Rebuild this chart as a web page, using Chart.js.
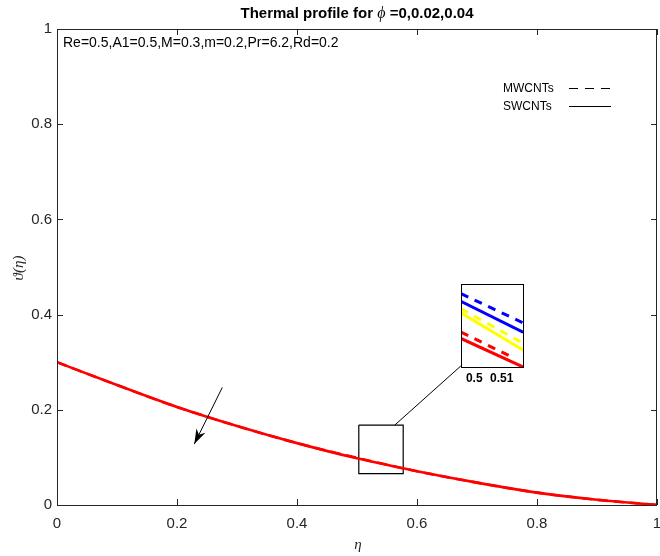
<!DOCTYPE html>
<html><head><meta charset="utf-8">
<script src="https://cdn.jsdelivr.net/npm/chart.js@4.4.0/dist/chart.umd.min.js"></script>
<style>
html,body{margin:0;padding:0;background:#fff}
#wrap{position:relative;width:660px;height:556px}
#main{position:absolute;left:0;top:0}
#inset{position:absolute;left:450px;top:278px}
</style></head><body>
<div id="wrap">
<canvas id="main" width="660" height="556"></canvas>
<canvas id="inset" width="85" height="115"></canvas>
</div>
<script>
// ─── DATA ───────────────────────────────────────────────────────────
const eta     = [0,0.1,0.2,0.3,0.4,0.5,0.6,0.7,0.8,0.9,1.0];
const thetaSW = [0.300,0.252,0.206,0.166,0.130,0.098,0.071,0.047,0.026,0.011,0.000];
const thetaMW = [0.300,0.252,0.206,0.166,0.130,0.099,0.071,0.047,0.026,0.011,0.000];
const yTicks  = [0,0.2,0.4,0.6,0.8,1];
const xTicks  = [0,0.2,0.4,0.6,0.8,1];

// zoom window (small box on curve) and pointer lines
const boxEta   = [0.503,0.577,0.577,0.503,0.503];
const boxTheta = [0.168,0.168,0.066,0.066,0.168];
const linkEta   = [0.563,0.673];
const linkTheta = [0.168,0.292];
const arrowEta   = [0.2755,0.2288];
const arrowTheta = [0.247,0.128];

// inset: phi = 0 (blue), 0.02 (yellow), 0.04 (red)
const insetTicks = [0.5,0.51];
const blueEtaS = [0.4941,0.5177], blueS = [0.10052,0.09955];
const blueEtaM = [0.4952,0.5177], blueM = [0.10071,0.09983];
const yelEtaS  = [0.4952,0.5196], yelS  = [0.10013,0.09892];
const yelEtaM  = [0.4952,0.5177], yelM  = [0.10025,0.09922];
const redEtaS  = [0.4941,0.5180], redS  = [0.09940,0.09849];
const redEtaM  = [0.4952,0.5140], redM  = [0.09955,0.09879];

const pts=(xs,ys)=>xs.map((x,i)=>({x,y:ys[i]}));
const SANS='"Liberation Sans", Arial, sans-serif';
const SERIF='"Liberation Serif","DejaVu Serif",serif';
const INK='#262626';

// ─── PLUGIN: matlab-like frame, inner ticks, texts ─────────────────
const frame={
  id:'frame',
  afterDraw(chart){
    const c=chart.ctx, a=chart.chartArea, sx=chart.scales.x, sy=chart.scales.y;
    c.save();
    c.strokeStyle=INK; c.lineWidth=1;
    c.strokeRect(Math.round(a.left)+0.5,Math.round(a.top)+0.5,Math.round(a.right-a.left)-1,Math.round(a.bottom-a.top));
    c.beginPath();
    xTicks.forEach(v=>{
      const x=Math.round(sx.getPixelForValue(v))+0.5;
      c.moveTo(x,a.bottom); c.lineTo(x,a.bottom-6);
      c.moveTo(x,a.top); c.lineTo(x,a.top+6);
    });
    yTicks.forEach(v=>{
      const y=Math.round(sy.getPixelForValue(v))+0.5;
      c.moveTo(a.left,y); c.lineTo(a.left+6,y);
      c.moveTo(a.right,y); c.lineTo(a.right-6,y);
    });
    c.stroke();
    // arrow head
    const m=chart.getDatasetMeta(0).data;
    const p0=m[0], p1=m[1];
    const ang=Math.atan2(p1.y-p0.y,p1.x-p0.x), L=15, W=5;
    c.fillStyle='#000';
    c.beginPath();
    c.moveTo(p1.x,p1.y);
    c.lineTo(p1.x-L*Math.cos(ang)+W*Math.sin(ang),p1.y-L*Math.sin(ang)-W*Math.cos(ang));
    c.lineTo(p1.x-L*0.7*Math.cos(ang),p1.y-L*0.7*Math.sin(ang));
    c.lineTo(p1.x-L*Math.cos(ang)-W*Math.sin(ang),p1.y-L*Math.sin(ang)+W*Math.cos(ang));
    c.closePath(); c.fill();
    // title
    c.fillStyle='#000'; c.textBaseline='middle';
    const t1='Thermal profile for ', t2='\u03d5', t3=' =0,0.02,0.04';
    c.font='bold 15px '+SANS; const w1=c.measureText(t1).width, w3=c.measureText(t3).width;
    c.font='italic 16px '+SERIF; const w2=c.measureText(t2).width;
    let x0=(a.left+a.right)/2-(w1+w2+w3)/2;
    c.font='bold 15px '+SANS; c.textAlign='left'; c.fillText(t1,x0,14);
    c.font='italic 16px '+SERIF; c.fillText(t2,x0+w1,14);
    c.font='bold 15px '+SANS; c.fillText(t3,x0+w1+w2,14);
    // parameters
    c.fillStyle='#000'; c.font='14px '+SANS;
    c.fillText('Re=0.5,A1=0.5,M=0.3,m=0.2,Pr=6.2,Rd=0.2',63,43);
    // legend
    c.font='12px '+SANS;
    c.fillText('MWCNTs',503,89);
    c.fillText('SWCNTs',503,107);
    c.strokeStyle='#000'; c.lineWidth=1;
    c.setLineDash([9,7]); c.beginPath(); c.moveTo(569,88.5); c.lineTo(611,88.5); c.stroke();
    c.setLineDash([]); c.beginPath(); c.moveTo(569,106.5); c.lineTo(611,106.5); c.stroke();
    // axis titles
    c.fillStyle=INK; c.font='italic 15px '+SERIF; c.textAlign='center';
    c.fillText('\u03b7',(a.left+a.right)/2+1,545);
    c.translate(19,268); c.rotate(-Math.PI/2); c.fillText('\u03d1(\u03b7)',0,0);
    c.restore();
  }
};

new Chart(document.getElementById('main'),{
  type:'scatter',
  data:{datasets:[
    {data:pts(arrowEta,arrowTheta),showLine:true,borderColor:'#000',borderWidth:1,pointRadius:0},
    {data:pts(linkEta,linkTheta),showLine:true,borderColor:'#000',borderWidth:1,pointRadius:0},
    {data:pts(eta,thetaSW),showLine:true,borderColor:'#ff0000',borderWidth:2.6,pointRadius:0,cubicInterpolationMode:'monotone'},
    {data:pts(eta,thetaMW),showLine:true,borderColor:'#ff0000',borderWidth:2.6,borderDash:[10,6],pointRadius:0,cubicInterpolationMode:'monotone'},
    {data:pts(boxEta,boxTheta),showLine:true,borderColor:'#000',borderWidth:1.2,pointRadius:0}
  ]},
  options:{
    responsive:false,animation:false,
    layout:{padding:{top:29,right:3,left:0,bottom:0}},
    plugins:{legend:{display:false},tooltip:{enabled:false}},
    scales:{
      x:{type:'linear',min:0,max:1,
        afterFit:s=>{s.height=51;s.paddingLeft=0;s.paddingRight=0;},
        afterBuildTicks:s=>{s.ticks=xTicks.map(v=>({value:v}));},
        grid:{display:false,drawTicks:false},border:{display:false},
        ticks:{padding:10,color:INK,font:{family:SANS,size:15},maxRotation:0,callback:v=>String(v)}},
      y:{type:'linear',min:0,max:1,
        afterFit:s=>{s.width=57;s.paddingTop=0;s.paddingBottom=0;},
        afterBuildTicks:s=>{s.ticks=yTicks.map(v=>({value:v}));},
        grid:{display:false,drawTicks:false},border:{display:false},
        ticks:{padding:5,color:INK,font:{family:SANS,size:15},callback:v=>String(v)}}
    }
  },
  plugins:[frame]
});

// ─── INSET ──────────────────────────────────────────────────────────
const insetFrame={
  id:'insetFrame',
  afterDraw(chart){
    const c=chart.ctx,a=chart.chartArea;
    c.save(); c.strokeStyle='#000'; c.lineWidth=1;
    c.strokeRect(Math.round(a.left)+0.5,Math.round(a.top)+0.5,Math.round(a.right-a.left),Math.round(a.bottom-a.top));
    c.restore();
  }
};
const insetLine=(xs,ys,color,dash)=>({data:pts(xs,ys),showLine:true,borderColor:color,borderWidth:3,pointRadius:0,borderDash:dash||[]});
new Chart(document.getElementById('inset'),{
  type:'scatter',
  data:{datasets:[
    insetLine(redEtaS,redS,'#ff0000'),
    insetLine(redEtaM,redM,'#ff0000',[8,7]),
    insetLine(yelEtaS,yelS,'#ffff00'),
    insetLine(yelEtaM,yelM,'#ffff00',[8,7]),
    insetLine(blueEtaS,blueS,'#0000ff'),
    insetLine(blueEtaM,blueM,'#0000ff',[8,7])
  ]},
  options:{
    responsive:false,animation:false,
    layout:{padding:{top:6,left:11,right:12,bottom:0}},
    plugins:{legend:{display:false},tooltip:{enabled:false}},
    scales:{
      x:{type:'linear',min:0.4952,max:0.5177,
        afterFit:s=>{s.height=26;s.paddingLeft=0;s.paddingRight=0;},
        afterBuildTicks:s=>{s.ticks=insetTicks.map(v=>({value:v}));},
        grid:{display:false,drawTicks:false},border:{display:false},
        ticks:{padding:4,color:'#000',font:{family:SANS,size:12,weight:'bold'},maxRotation:0,autoSkip:false,callback:v=>String(v)}},
      y:{type:'linear',min:0.0985,max:0.1010,display:false}
    }
  },
  plugins:[insetFrame]
});
</script>
</body></html>
